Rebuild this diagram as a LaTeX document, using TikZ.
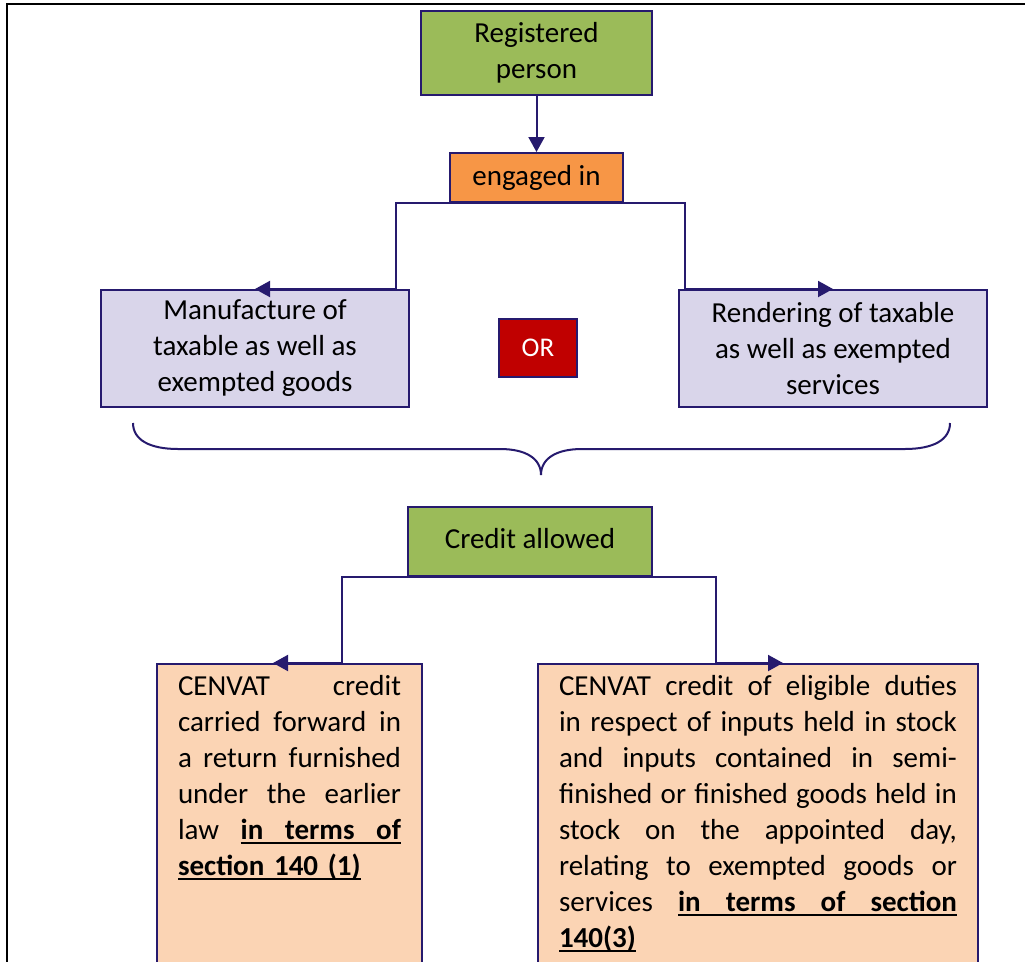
\documentclass[tikz,border=0pt]{standalone}
\usepackage{fontspec}
\setmainfont{Carlito}
\usetikzlibrary{arrows.meta}
\definecolor{navy}{RGB}{38,26,110}
\definecolor{grn}{RGB}{155,187,89}
\definecolor{orng}{RGB}{247,150,70}
\definecolor{lav}{RGB}{217,213,234}
\definecolor{peach}{RGB}{251,212,180}
\definecolor{redbox}{RGB}{192,0,0}
\newsavebox\ulbox
\newcommand\jl[1]{\leavevmode\hbox to\linewidth{#1}\par}
\newcommand\gp{\hskip 0.2em plus 1fill\relax}
\newcommand\myul[1]{\sbox\ulbox{#1}\rlap{\rule[-4.5pt]{\wd\ulbox}{1.6pt}}\usebox\ulbox}
\newcommand\ulgap{\leaders\hrule height -2.9pt depth 4.5pt\hskip 0.2em plus 1fill\relax}
\tikzset{
  box/.style={draw=navy, line width=2pt, inner sep=0pt, anchor=north west, align=center,
    font=\fontsize{29}{36}\selectfont},
  conn/.style={draw=navy, line width=2pt},
  arr/.style={conn, -{Triangle[length=15pt,width=16pt]}},
  txtbox/.style={draw=navy, line width=2pt, anchor=north west, inner xsep=21pt, inner ysep=0pt,
    text height=31pt, text depth=300pt, fill=peach, font=\fontsize{29}{36}\selectfont},
  frame/.style={draw=black, line width=2.5pt}
}
\begin{document}
\begin{tikzpicture}[x=1pt,y=-1pt]
\useasboundingbox (0,0) rectangle (1025,961);
\fill[white] (0,0) rectangle (1025,961);
% outer frame
\coordinate (fl) at (7,4);
\coordinate (fr) at (1030,4);
\coordinate (fb) at (7,970);
\draw[frame] (fr) -- (fl) -- (fb);
% nodes
\node[box, fill=grn, minimum width=231pt, minimum height=84pt] (reg) at (420,10) {Registered\\person};
\node[box, fill=orng, minimum width=173pt, minimum height=49pt] (eng) at (449,152) {engaged in};
\node[box, fill=lav, minimum width=308pt, minimum height=117pt] (man) at (100,289) {Manufacture of\\taxable as well as\\exempted goods};
\node[box, fill=lav, minimum width=308pt, minimum height=117pt] (ren) at (678,289) {Rendering of taxable\\as well as exempted\\services};
\node[box, fill=redbox, text=white, minimum width=78pt, minimum height=58pt, font=\fontsize{27}{32}\selectfont] (or) at (498,318) {OR};
\node[box, fill=grn, minimum width=244pt, minimum height=69pt, text depth=7pt] (cred) at (407,506) {Credit allowed};
\node[txtbox, text width=223pt] (cl) at (156,663) {%
\jl{CENVAT\gp credit}%
\jl{carried\gp forward\gp in}%
\jl{a\gp return\gp furnished}%
\jl{under\gp the\gp earlier}%
\jl{law\gp\myul{\bfseries in}\ulgap\myul{\bfseries terms}\ulgap\myul{\bfseries of}}%
\jl{\myul{\bfseries section 140 (1)}\hfill}};
\node[txtbox, text width=398pt] (cr) at (537,663) {%
\jl{CENVAT\gp credit\gp of\gp eligible\gp duties}%
\jl{in\gp respect\gp of\gp inputs\gp held\gp in\gp stock}%
\jl{and\gp inputs\gp contained\gp in\gp semi-}%
\jl{finished\gp or\gp finished\gp goods\gp held\gp in}%
\jl{stock\gp on\gp the\gp appointed\gp day,}%
\jl{relating\gp to\gp exempted\gp goods\gp or}%
\jl{services\gp\myul{\bfseries in}\ulgap\myul{\bfseries terms}\ulgap\myul{\bfseries of}\ulgap\myul{\bfseries section}}%
\jl{\myul{\bfseries 140(3)}\hfill}};
% connectors
\draw[arr] (reg.south) -- (eng.north);
\draw[arr] (eng.south) -| ([xshift=141pt]man.north) -- (man.north);
\draw[arr] (eng.south) -| ([xshift=-148pt]ren.north) -- (ren.north);
\coordinate (clt) at ([xshift=117pt]cl.north west);
\coordinate (crt) at ([xshift=246pt]cr.north west);
\draw[arr] (cred.south) -| ([xshift=186pt]cl.north west) -- (clt);
\draw[arr] (cred.south) -| ([xshift=179pt]cr.north west) -- (crt);
% brace
\draw[conn] (133,423) .. controls (133,440) and (150,449) .. (178,449) -- (500,449)
  .. controls (525,449) and (541,458) .. (541,475)
  .. controls (541,458) and (557,449) .. (582,449) -- (905,449)
  .. controls (933,449) and (950,440) .. (950,423);
\end{tikzpicture}
\end{document}
